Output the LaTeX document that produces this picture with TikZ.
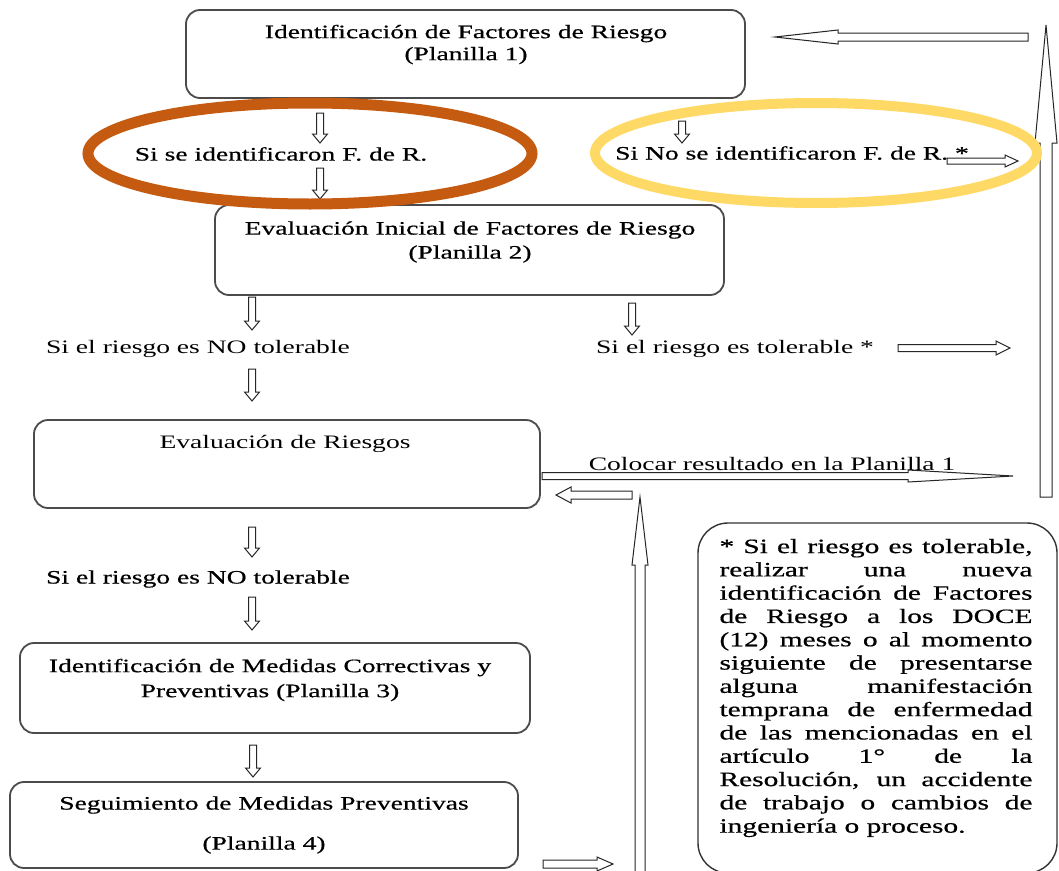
\documentclass[tikz,border=0pt]{standalone}
\usepackage{fontspec}
\setmainfont[FakeStretch=1.45]{Liberation Serif}
\newfontfamily\heavyish[FakeStretch=1.45,FakeBold=0.6]{Liberation Serif}
\usetikzlibrary{calc}
\definecolor{orng}{RGB}{197,90,17}
\definecolor{ylw}{RGB}{255,217,102}
\definecolor{bord}{RGB}{75,75,75}
\begin{document}
\begin{tikzpicture}[x=1pt,y=-1pt,
  box/.style={draw=bord, line width=1.8pt, rounded corners=14pt, inner sep=0pt},
  txt/.style={inner sep=0pt, align=center, font=\fontsize{19}{22}\selectfont},
  htxt/.style={inner sep=0pt, align=center, font=\fontsize{19}{22}\selectfont\heavyish},
  hollow/.style n args={3}{draw=black!85, line width=1pt, fill=white, line join=miter,
    to path={
      let \p1=(\tikztostart), \p2=(\tikztotarget),
          \n1={veclen(\x2-\x1,\y2-\y1)},
          \n2={(\x2-\x1)/\n1}, \n3={(\y2-\y1)/\n1}
      in
      ({\x1-#1*\n3},{\y1+#1*\n2})
      -- ({\x2-#3*\n2-#1*\n3},{\y2-#3*\n3+#1*\n2})
      -- ({\x2-#3*\n2-#2*\n3},{\y2-#3*\n3+#2*\n2})
      -- (\p2)
      -- ({\x2-#3*\n2+#2*\n3},{\y2-#3*\n3-#2*\n2})
      -- ({\x2-#3*\n2+#1*\n3},{\y2-#3*\n3-#1*\n2})
      -- ({\x1+#1*\n3},{\y1-#1*\n2})
      -- cycle
    }},
  smalldown/.style={hollow={3.5}{7.5}{9}},
  ring/.style={line width=#1}
]
\useasboundingbox (0,0) rectangle (1059,870);
\fill[white] (0,0) rectangle (1059,870);

% ---------- boxes ----------
\node[box, minimum width=559pt, minimum height=88pt] (b1) at (465.5,54) {};
\node[box, minimum width=509pt, minimum height=90pt] (b2) at (469.5,250) {};
\node[box, minimum width=506pt, minimum height=88pt] (b3) at (287,464) {};
\node[box, minimum width=510pt, minimum height=90pt] (b4) at (275,688) {};
\node[box, minimum width=508pt, minimum height=86pt] (b5) at (264,825) {};
\node[draw=black!80, line width=1.4pt, rounded corners=30pt, minimum width=359pt,
      minimum height=350pt, inner sep=0pt] (nb) at (877.5,698) {};

% ---------- box texts ----------
\node[htxt] (tb1) at (466,44.5) {Identificación de Factores de Riesgo\\(Planilla 1)};
\node[htxt, font=\fontsize{19}{24}\selectfont\heavyish] (tb2) at (470,242) {Evaluación Inicial de Factores de Riesgo\\(Planilla 2)};
\node[txt] (tb3) at (285,444) {Evaluación de Riesgos};
\node[htxt, font=\fontsize{19}{25}\selectfont\heavyish] (tb4) at (270,680) {Identificación de Medidas Correctivas y\\Preventivas (Planilla 3)};
\node[htxt, font=\fontsize{19}{40}\selectfont\heavyish] (tb5) at (264,825) {Seguimiento de Medidas Preventivas\\(Planilla 4)};

% ---------- labels ----------
\node[htxt] (t1) at (281,154) {Si se identificaron F. de R.};
\node[htxt] (t2) at (792,153) {Si No se identificaron F. de R. *};
\node[txt] (t3) at (198,349) {Si el riesgo es NO tolerable};
\node[txt] (t4) at (735,349) {Si el riesgo es tolerable *};
\node[txt] (t5) at (772,464) {Colocar resultado en la Planilla 1};
\node[htxt] (t6) at (198,579) {Si el riesgo es NO tolerable};

% ---------- note ----------
\node[inner sep=0pt] (nt) at (876,688) {\parbox{313pt}{\fontsize{20.3}{23.3}\selectfont\heavyish
\tolerance=10000 \hyphenpenalty=10000 \parfillskip=0pt plus 1fil
* Si el riesgo es tolerable,\linebreak
realizar una nueva\linebreak
identificación de Factores\linebreak
de Riesgo a los DOCE\linebreak
(12) meses o al momento\linebreak
siguiente de presentarse\linebreak
alguna manifestación\linebreak
temprana de enfermedad\linebreak
de las mencionadas en el\linebreak
artículo 1° de la\linebreak
Resolución, un accidente\linebreak
de trabajo o cambios de\linebreak
ingeniería o proceso.}};

% ---------- arrow end points ----------
\coordinate (a1s) at (320,113); \coordinate (a1e) at (320,143);
\coordinate (a2s) at (320,168); \coordinate (a2e) at (320,199);
\coordinate (a3s) at (682,121); \coordinate (a3e) at (682,143);
\coordinate (a4s) at (252,297); \coordinate (a4e) at (252,330);
\coordinate (a5s) at (632,303); \coordinate (a5e) at (632,335);
\coordinate (a6s) at (252,369); \coordinate (a6e) at (252,401);
\coordinate (a7s) at (252,527); \coordinate (a7e) at (252,557);
\coordinate (a8s) at (252,597); \coordinate (a8e) at (252,630);
\coordinate (a9s) at (253,745); \coordinate (a9e) at (253,777);
\coordinate (h1s) at (947,161); \coordinate (h1e) at (1018,161);
\coordinate (h2s) at (898,348); \coordinate (h2e) at (1010,348);
\coordinate (h3s) at (542,476); \coordinate (h3e) at (1013,476);
\coordinate (h4s) at (632,495); \coordinate (h4e) at (556,495);
\coordinate (h5s) at (543,864); \coordinate (h5e) at (613,864);
\coordinate (tps) at (1028,37); \coordinate (tpe) at (775,37);
\coordinate (vrs) at (1046,497); \coordinate (vre) at (1046,25);
\coordinate (vms) at (640,880); \coordinate (vme) at (640,497);

% ---------- arrows ----------
\draw[smalldown] (a1s) to (a1e);
\draw[smalldown] (a2s) to (a2e);
\draw[smalldown] (a3s) to (a3e);
\draw[smalldown] (a4s) to (a4e);
\draw[smalldown] (a5s) to (a5e);
\draw[smalldown] (a6s) to (a6e);
\draw[smalldown] (a7s) to (a7e);
\draw[smalldown] (a8s) to (a8e);
\draw[smalldown] (a9s) to (a9e);
\draw[hollow={3}{6}{13}] (h1s) to (h1e);
\draw[hollow={3.5}{7}{14}] (h2s) to (h2e);
\draw[hollow={3.5}{6}{105}] (h3s) to (h3e);
\draw[hollow={4}{8}{15}] (h4s) to (h4e);
\draw[hollow={4}{7}{16}] (h5s) to (h5e);
\draw[hollow={4}{7}{63}] (tps) to (tpe);
\draw[hollow={6}{11}{118}] (vrs) to (vre);
\draw[hollow={5}{8}{68}] (vms) to (vme);

% ---------- highlight ellipses ----------
\draw[orng, ring=11pt] (310,153.5) ellipse [x radius=222, y radius=50.5];
\draw[ylw, ring=10pt] (816,153) ellipse [x radius=221, y radius=50];
\end{tikzpicture}
\end{document}
